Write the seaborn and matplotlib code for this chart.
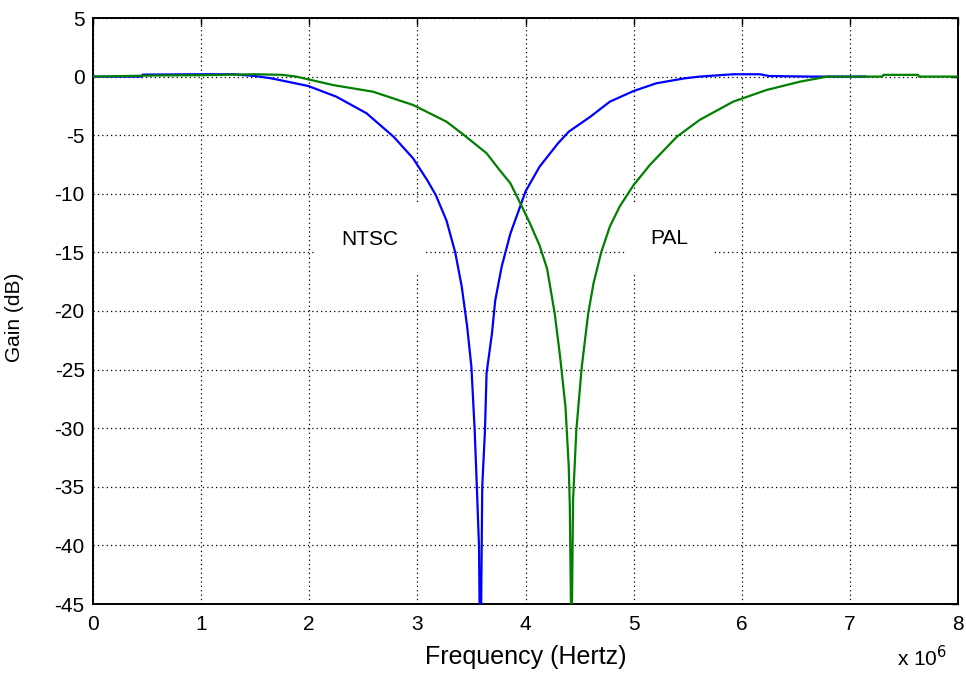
import matplotlib
matplotlib.use("Agg")
import matplotlib.pyplot as plt
import seaborn as sns
import pandas as pd

# NTSC notch response (frequency in MHz, gain in dB)
ntsc_freq = [0.0, 0.45, 0.46, 1.0, 1.3, 1.5, 1.65, 1.99, 2.25, 2.53, 2.78, 2.96, 3.09, 3.17,
             3.27, 3.35, 3.41, 3.46, 3.50, 3.53, 3.55, 3.57, 3.575, 3.59, 3.60, 3.625, 3.64,
             3.69, 3.72, 3.78, 3.86, 3.95, 4.0, 4.13, 4.30, 4.40, 4.60, 4.78, 5.0, 5.21,
             5.47, 5.61, 5.92, 6.17, 6.25, 6.66, 7.15]
ntsc_gain = [0.0, 0.0, 0.17, 0.2, 0.2, 0.05, -0.15, -0.80, -1.71, -3.13, -5.13, -6.97, -8.82, -10.1,
             -12.3, -15.0, -17.9, -21.3, -24.8, -30.2, -35.0, -40.1, -45.0, -45.0, -35.0, -30.2, -25.3,
             -21.9, -19.1, -16.2, -13.4, -11.1, -9.8, -7.69, -5.7, -4.7, -3.42, -2.14, -1.23, -0.57,
             -0.15, 0.0, 0.2, 0.2, 0.05, 0.0, 0.0]

# PAL notch response
pal_freq = [0.0, 0.6, 1.0, 1.5, 1.75, 1.88, 2.22, 2.59, 2.96, 3.27, 3.43, 3.64, 3.76, 3.86, 3.96,
            4.04, 4.13, 4.20, 4.27, 4.32, 4.37, 4.40, 4.41, 4.42, 4.43, 4.44, 4.47, 4.52, 4.58,
            4.63, 4.70, 4.78, 4.87, 5.0, 5.15, 5.40, 5.61, 5.92, 6.23, 6.54, 6.79, 7.3, 7.31,
            7.63, 7.64, 8.0]
pal_gain = [0.0, 0.1, 0.12, 0.2, 0.15, 0.0, -0.72, -1.29, -2.42, -3.85, -4.98, -6.54, -7.97, -9.1, -10.96,
            -12.5, -14.4, -16.4, -20.2, -23.9, -28.2, -33.3, -36.7, -45.0, -45.0, -36.1, -30.2, -24.8, -20.2,
            -17.6, -15.0, -12.8, -11.1, -9.25, -7.54, -5.13, -3.7, -2.14, -1.14, -0.43, 0.0, 0.0, 0.15,
            0.15, 0.0, 0.0]

x_ticks = [0, 1, 2, 3, 4, 5, 6, 7, 8]
y_ticks = [-45, -40, -35, -30, -25, -20, -15, -10, -5, 0, 5]

sns.set_style("white")
plt.rcParams['font.family'] = ['Liberation Sans', 'DejaVu Sans']
plt.rcParams['text.color'] = 'black'
plt.rcParams['axes.labelcolor'] = 'black'
plt.rcParams['xtick.color'] = 'black'
plt.rcParams['ytick.color'] = 'black'

fig = plt.figure(figsize=(9.66, 6.75), dpi=100)
ax = fig.add_axes([93/966, 1-604/675, (958-93)/966, (604-18)/675])

df_n = pd.DataFrame({"f": ntsc_freq, "g": ntsc_gain})
df_p = pd.DataFrame({"f": pal_freq, "g": pal_gain})
sns.lineplot(data=df_n, x="f", y="g", ax=ax, color="#0000FF", linewidth=1.6,
             estimator=None, sort=False, zorder=3)
sns.lineplot(data=df_p, x="f", y="g", ax=ax, color="#008000", linewidth=1.6,
             estimator=None, sort=False, zorder=3)

ax.set_xlim(0, 8)
ax.set_ylim(-45, 5)
ax.set_xticks(x_ticks)
ax.set_xticklabels([str(t) for t in x_ticks])
ax.set_yticks(y_ticks)
ax.set_yticklabels([str(t) for t in y_ticks])
ax.grid(True, color="black", linestyle=(0, (1, 2.5)), linewidth=0.9)
ax.set_axisbelow(True)
ax.tick_params(direction="in", top=True, right=True, length=5, width=1,
               labelsize=15, color="black", labelcolor="black")
ax.tick_params(axis="x", pad=8)
ax.tick_params(axis="y", pad=6)
for s in ax.spines.values():
    s.set_color("black")
    s.set_linewidth(1.4)

ax.set_xlabel("Frequency (Hertz)", fontsize=18, labelpad=8, color="black")
ax.set_ylabel("Gain (dB)", fontsize=15, color="black")
ax.yaxis.set_label_coords(-69/865, (604-317)/586)

fig.text(897/966, 1-670/675, "x 10$^{6}$", fontsize=15, ha="left", va="bottom", color="black")

box = dict(boxstyle="square,pad=1.2", facecolor="white", edgecolor="none")
ax.text(2.56, -13.9, "NTSC", fontsize=15, ha="center", va="center", bbox=box, zorder=2, color="black")
ax.text(5.33, -13.8, "PAL", fontsize=15, ha="center", va="center", bbox=box, zorder=2, color="black")

fig.savefig("out.png", dpi=100, facecolor="white")
